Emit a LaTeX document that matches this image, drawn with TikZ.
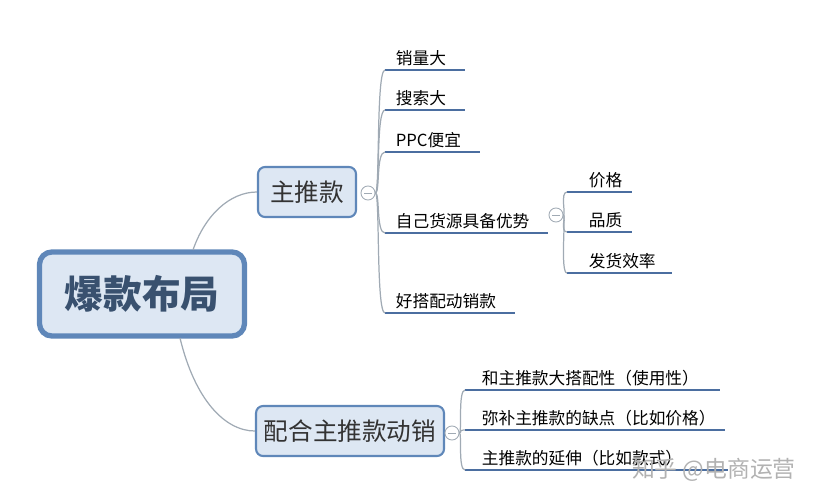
\documentclass[tikz,border=0pt]{standalone}
\usepackage{fontspec}
\setmainfont{Noto Sans CJK SC}
\usetikzlibrary{positioning}
\definecolor{boxfill}{RGB}{221,231,243}
\definecolor{boxline}{RGB}{95,135,185}
\definecolor{linkcol}{RGB}{160,170,180}
\definecolor{linecol}{RGB}{75,110,160}
\tikzset{
  topic/.style={draw=boxline, fill=boxfill, rounded corners=4pt, line width=1.2pt, text=black!80, font=\fontsize{14}{16}\selectfont, inner sep=0pt},
  leaf/.style={anchor=south west, font=\fontsize{9.5}{11}\selectfont, inner sep=2pt},
  uline/.style={draw=linecol, line width=1.4pt},
  link/.style={draw=linkcol, line width=0.7pt},
  fold/.style={draw=linkcol, fill=white, circle, inner sep=0pt, minimum size=8pt, line width=0.5pt}
}
\begin{document}
\begin{tikzpicture}[x=0.02cm, y=-0.02cm]
  \useasboundingbox (0,0) rectangle (822,501);
  % main topics
  \node[topic, line width=3pt, rounded corners=7pt, minimum width=4.1cm, minimum height=1.68cm, font=\fontsize{22}{26}\selectfont\bfseries, text=boxline!60!black] (root) at (142,294) {爆款布局};
  \node[topic, minimum width=1.96cm, minimum height=1cm] (main) at (307,192) {主推款};
  \node[topic, minimum width=3.76cm, minimum height=1cm] (assist) at (350,431) {配合主推款动销};
  \coordinate (r1) at (193,250);
  \coordinate (r2) at (180,338);
  \draw[link] (r1) .. controls (205,215) and (230,192) .. (main.west);
  \draw[link] (r2) .. controls (195,400) and (225,431) .. (assist.west);
  % fold markers
  \node[fold] (f1) at (368,193) {};
  \node[fold] (f2) at (556,215) {};
  \node[fold] (f3) at (452,433) {};
  \foreach \f in {f1,f2,f3}
    \draw[linkcol, line width=0.5pt] ([xshift=-2pt]\f.center) -- ([xshift=2pt]\f.center);
  % leaves of main
  \foreach \name/\y/\x/\txt in {s1/70/465/销量大, s2/110/465/搜索大, s3/152/480/PPC便宜, s4/233/548/自己货源具备优势, s5/313/515/好搭配动销款} {
    \coordinate (\name a) at (385,\y);
    \coordinate (\name b) at (\x,\y);
    \draw[uline] (\name a) -- (\name b);
    \node[leaf] (\name) at (392,\y) {\txt};
    \draw[link] (f1.east) .. controls (380,193) and (376,\y) .. (\name a);
  }
  % leaves of 自己货源具备优势
  \foreach \name/\y/\x/\txt in {t1/192/632/价格, t2/232/632/品质, t3/273/672/发货效率} {
    \coordinate (\name a) at (567,\y);
    \coordinate (\name b) at (\x,\y);
    \draw[uline] (\name a) -- (\name b);
    \node[leaf] (\name) at (585,\y) {\txt};
    \draw[link] (f2.east) .. controls (566,215) and (560,\y) .. (\name a);
  }
  % leaves of assist
  \foreach \name/\y/\x/\txt in {u1/390/720/和主推款大搭配性（使用性）, u2/430/725/弥补主推款的缺点（比如价格）, u3/470/728/主推款的延伸（比如款式）} {
    \coordinate (\name a) at (465,\y);
    \coordinate (\name b) at (\x,\y);
    \draw[uline] (\name a) -- (\name b);
    \node[leaf] (\name) at (478,\y) {\txt};
    \draw[link] (f3.east) .. controls (462,433) and (458,\y) .. (\name a);
  }
  \node[text=black!30, font=\fontsize{13}{15}\selectfont, anchor=east] (mark) at (802,470) {知乎 @电商运营};
\end{tikzpicture}
\end{document}
